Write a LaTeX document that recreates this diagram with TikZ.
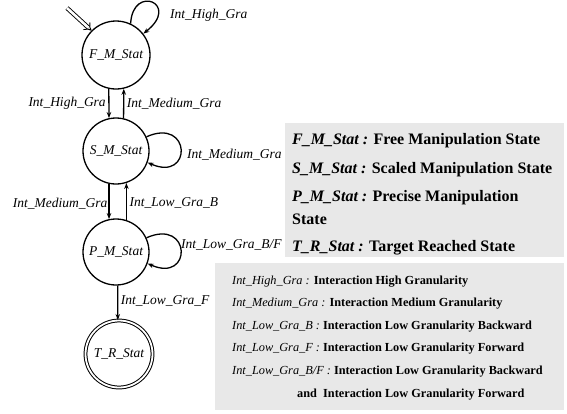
\documentclass[tikz,border=0pt]{standalone}
\usepackage{fontspec}
\setmainfont{Liberation Serif}
\usetikzlibrary{arrows.meta}
\definecolor{legendgray}{RGB}{232,232,232}
\begin{document}
\begin{tikzpicture}[x=1pt,y=-1pt,
  state/.style={circle, draw, line width=1.3pt, minimum size=67pt, inner sep=0pt,
    font=\fontsize{13.5}{15}\selectfont\itshape},
  lbl/.style={font=\fontsize{13.5}{15}\selectfont\itshape, inner sep=2.5pt},
  tr/.style={line width=1.3pt, -{Stealth[length=6pt,width=4.5pt]}},
  legA/.style={font=\fontsize{16}{18}\selectfont\bfseries, anchor=west, inner sep=0pt},
  legB/.style={font=\fontsize{12.3}{14}\selectfont\bfseries, anchor=west, inner sep=0pt},
]
\useasboundingbox (0,0) rectangle (567,413);
\fill[legendgray] (285,123) rectangle (564,257);
\fill[legendgray] (215,263) rectangle (564,410);

\node[state, minimum size=68pt] (F) at (116,55) {F\_M\_Stat};
\node[state, minimum size=66pt] (S) at (116,151) {S\_M\_Stat};
\node[state, minimum size=66pt] (P) at (116,252) {P\_M\_Stat};
\node[state, minimum size=67pt, line width=1pt, double, double distance=1.8pt] (T) at (119,354) {T\_R\_Stat};

\coordinate (init) at (67,8);
\draw[line width=0.9pt, double, double distance=2.6pt, -{Implies}] (init) -- (F.135);

\draw[tr] (F.258) -- node[lbl, anchor=east] {Int\_High\_Gra} (S.102);
\draw[tr] (S.77) -- node[lbl, anchor=west] {Int\_Medium\_Gra} (F.283);
\draw[tr] (S.258) -- node[lbl, anchor=east, pos=0.55, inner sep=1pt] {Int\_Medium\_Gra} (P.102);
\draw[tr] (P.72) -- node[lbl, anchor=west, pos=0.45] {Int\_Low\_Gra\_B} (S.288);
\draw[tr] (P.273) -- node[lbl, anchor=west, pos=0.45] {Int\_Low\_Gra\_F} (T.92);

\draw[tr] (F.65) .. controls +(2,-40) and +(38,-30) .. (F.38);
\draw[tr] (S.25) .. controls +(45,-20) and +(45,20) .. (S.-20);
\draw[tr] (P.25) .. controls +(45,-20) and +(45,20) .. (P.-20);

\node[lbl, anchor=west, inner sep=0pt] (lF) at (170,15) {Int\_High\_Gra};
\node[lbl, anchor=west, inner sep=0pt] (lS) at (187,155) {Int\_Medium\_Gra};
\node[lbl, anchor=west, inner sep=0pt] (lP) at (181,245) {Int\_Low\_Gra\_B/F};

\node[legA] (a1) at (292,141) {{\itshape F\_M\_Stat :} Free Manipulation State};
\node[legA] (a2) at (292,170) {{\itshape S\_M\_Stat :} Scaled Manipulation State};
\node[legA] (a3) at (292,198) {{\itshape P\_M\_Stat :} Precise Manipulation};
\node[legA] (a4) at (292,219) {State};
\node[legA] (a5) at (292,248) {{\itshape T\_R\_Stat :} Target Reached State};

\node[legB] (b1) at (232,282) {{\mdseries\itshape Int\_High\_Gra :} Interaction High Granularity};
\node[legB] (b2) at (232,304) {{\mdseries\itshape Int\_Medium\_Gra :} Interaction Medium Granularity};
\node[legB] (b3) at (232,327) {{\mdseries\itshape Int\_Low\_Gra\_B :} Interaction Low Granularity Backward};
\node[legB] (b4) at (232,349) {{\mdseries\itshape Int\_Low\_Gra\_F :} Interaction Low Granularity Forward};
\node[legB] (b5) at (232,372) {{\mdseries\itshape Int\_Low\_Gra\_B/F :} Interaction Low Granularity Backward};
\node[legB] (b6) at (297,395) {and~ Interaction Low Granularity Forward};
\end{tikzpicture}
\end{document}
